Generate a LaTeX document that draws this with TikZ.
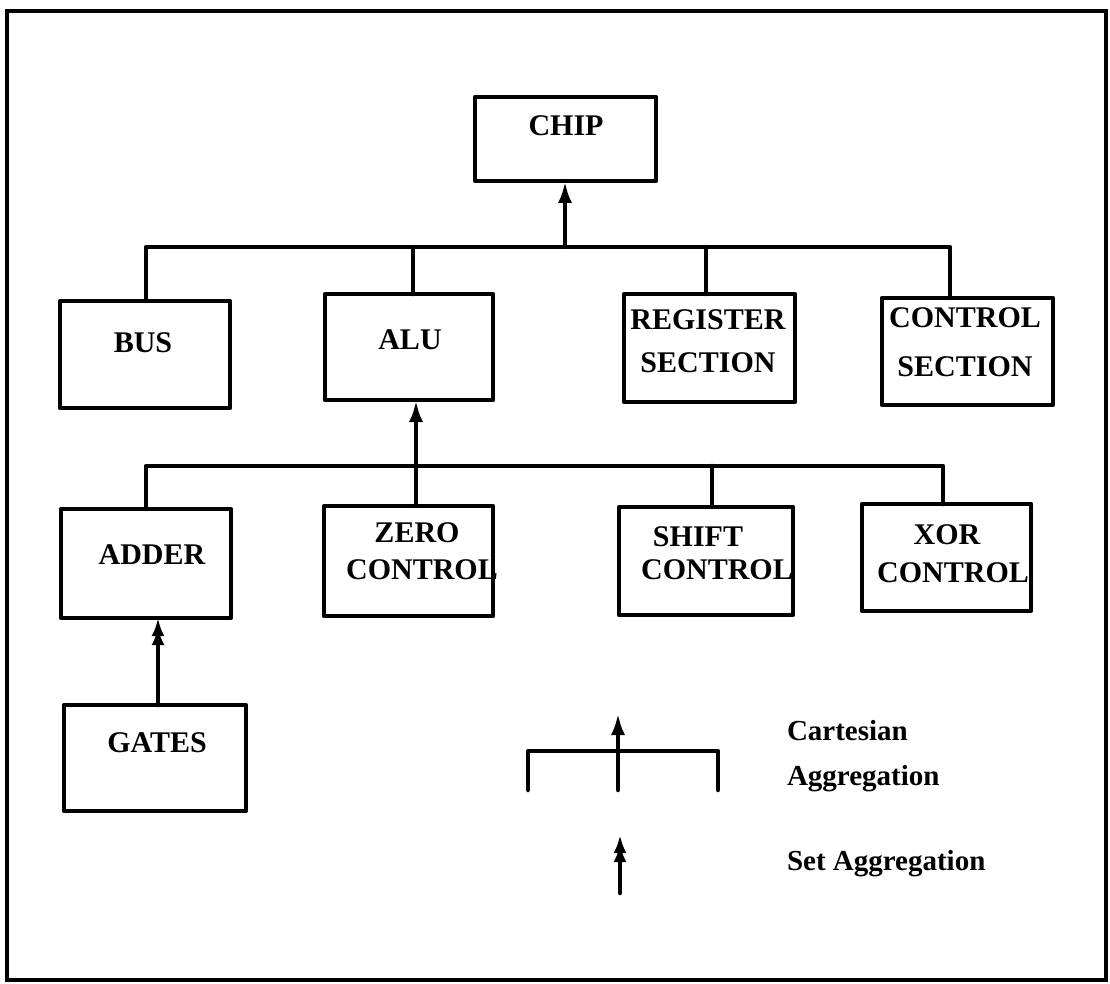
\documentclass[tikz,border=0pt]{standalone}
\usepackage{fontspec}
\setmainfont{Liberation Serif}
\usetikzlibrary{arrows.meta}
\begin{document}
\begin{tikzpicture}[x=1pt,y=-1pt,
  every node/.style={inner sep=0pt,outer sep=0pt},
  box/.style={draw,line width=4.5pt,line join=round},
  lbl/.style={font=\fontsize{30}{36}\selectfont\bfseries},
  leg/.style={font=\fontsize{29}{34}\selectfont\bfseries,anchor=base west},
  conn/.style={line width=4.5pt,line join=round,line cap=round},
  cart/.style={conn,-{Latex[length=22pt,width=14pt]}},
  setagg/.style={conn,-{Latex[length=18pt,width=13pt,sep=-9pt]Latex[length=18pt,width=13pt]}}]
\useasboundingbox (0,0) rectangle (1110,984);
\draw[line width=4.5pt] (7,11) rectangle (1106,980);

% boxes
\node[box,minimum width=181pt,minimum height=84pt] (chip) at (565.5,139) {};
\node[box,minimum width=170pt,minimum height=107pt] (bus) at (145,354.5) {};
\node[box,minimum width=168pt,minimum height=106pt] (alu) at (409,347) {};
\node[box,minimum width=171pt,minimum height=108pt] (reg) at (709.5,348) {};
\node[box,minimum width=171pt,minimum height=107pt] (ctrl) at (967.5,351.5) {};
\node[box,minimum width=170pt,minimum height=109pt] (adder) at (146,563.5) {};
\node[box,minimum width=169pt,minimum height=110pt] (zero) at (408.5,561) {};
\node[box,minimum width=174pt,minimum height=108pt] (shift) at (706,561) {};
\node[box,minimum width=169pt,minimum height=107pt] (xor) at (946.5,557.5) {};
\node[box,minimum width=182pt,minimum height=106pt] (gates) at (155,758) {};

% texts
\node[lbl] (tchip) at (566,126) {CHIP};
\node[lbl] (tbus) at (143,343) {BUS};
\node[lbl] (talu) at (410,340) {ALU};
\node[lbl] (treg1) at (708,320) {REGISTER};
\node[lbl] (treg2) at (708,363) {SECTION};
\node[lbl] (tctrl1) at (965,318) {CONTROL};
\node[lbl] (tctrl2) at (965,367) {SECTION};
\node[lbl] (tadder) at (152,555) {ADDER};
\node[lbl] (tzero1) at (417,533) {ZERO};
\node[lbl] (tzero2) at (422,570) {CONTROL};
\node[lbl] (tshift1) at (698,537) {SHIFT};
\node[lbl] (tshift2) at (717,570) {CONTROL};
\node[lbl] (txor1) at (947,535) {XOR};
\node[lbl] (txor2) at (953,573) {CONTROL};
\node[lbl] (tgates) at (157,743) {GATES};

% top-level cartesian aggregation
\coordinate (bar1) at (565,247);
\draw[conn] ([xshift=1pt]bus.north) |- (bar1) -| ([xshift=-17.5pt]ctrl.north);
\draw[conn] ([xshift=4pt]alu.north) -- ([xshift=4pt]alu.north |- bar1);
\draw[conn] ([xshift=-3.5pt]reg.north) -- ([xshift=-3.5pt]reg.north |- bar1);
\draw[cart] (bar1) -- (bar1 |- chip.south);

% ALU cartesian aggregation
\coordinate (bar2) at (416,466);
\draw[conn] (adder.north) |- (bar2) -| ([xshift=-3.5pt]xor.north);
\draw[conn] ([xshift=6pt]shift.north) -- ([xshift=6pt]shift.north |- bar2);
\draw[cart] ([xshift=7.5pt]zero.north) -- ([xshift=7.5pt]zero.north |- alu.south);

% set aggregation
\draw[setagg] ([xshift=3pt]gates.north) -- ([xshift=3pt]gates.north |- adder.south);

% legend
\coordinate (lgl) at (528,790);
\coordinate (lgr) at (718,790);
\coordinate (lgm) at (618,790);
\coordinate (lgt) at (618,713);
\coordinate (lgbar) at (618,751);
\draw[conn] (lgl) |- (lgbar) -| (lgr);
\draw[cart] (lgm) -- (lgt);
\coordinate (lss) at (620,893);
\coordinate (lse) at (620,835);
\draw[setagg] (lss) -- (lse);
\node[leg] (lcart1) at (787,740) {Cartesian};
\node[leg] (lcart2) at (787,785) {Aggregation};
\node[leg] (lset) at (787,870) {Set Aggregation};
\end{tikzpicture}
\end{document}
